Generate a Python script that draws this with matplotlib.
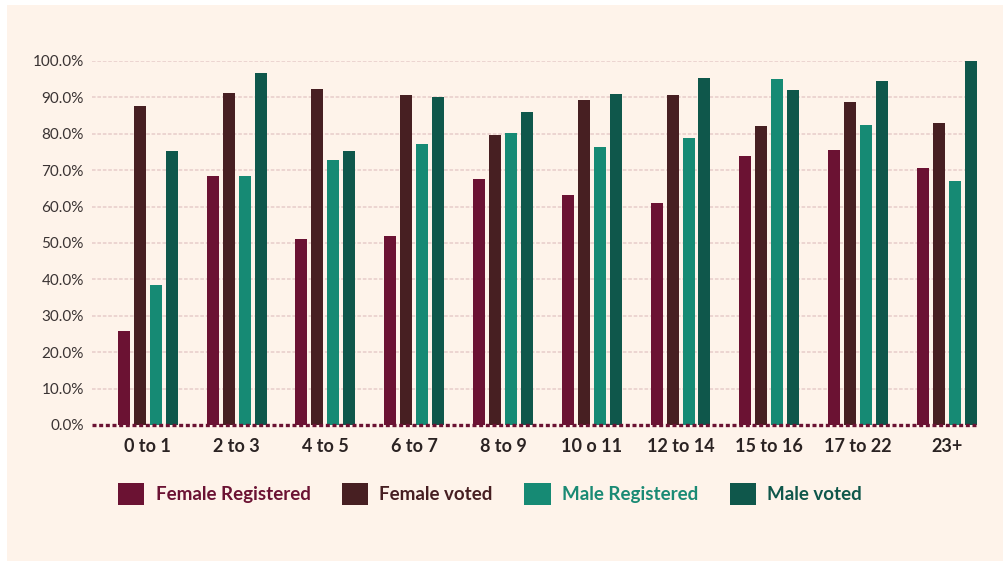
import numpy as np
import matplotlib
matplotlib.use("Agg")
import matplotlib.pyplot as plt
from matplotlib.patches import Patch, Rectangle
from matplotlib.ticker import FuncFormatter

# data
groups = ["0 to 1", "2 to 3", "4 to 5", "6 to 7", "8 to 9",
          "10 o 11", "12 to 14", "15 to 16", "17 to 22", "23+"]
female_registered = [25.9, 68.4, 51.2, 52.0, 67.6, 63.2, 61.0, 73.9, 75.6, 70.6]
female_voted = [87.6, 91.2, 92.3, 90.7, 79.7, 89.3, 90.7, 82.1, 88.7, 83.0]
male_registered = [38.4, 68.4, 72.8, 77.2, 80.2, 76.4, 78.8, 95.1, 82.4, 67.0]
male_voted = [75.3, 96.7, 75.3, 90.1, 86.0, 90.9, 95.3, 92.0, 94.5, 100.0]

series = ["Female Registered", "Female voted", "Male Registered", "Male voted"]
colors = ["#6B1233", "#471F22", "#168A74", "#0F574B"]
values = [female_registered, female_voted, male_registered, male_voted]

plt.rcParams["font.family"] = ["Lato", "DejaVu Sans"]

W, H = 1007, 562
fig = plt.figure(figsize=(W / 100, H / 100), dpi=100)
fig.patch.set_facecolor("white")
# cream panel behind everything
fig.patches.append(Rectangle((7 / W, 1 - 561 / H), (1003 - 7) / W, (561 - 5) / H,
                             transform=fig.transFigure, facecolor="#FEF3EA",
                             edgecolor="none", zorder=-5))

ax = fig.add_axes([92 / W, 1 - 425 / H, (977 - 92) / W, (425 - 61) / H])
ax.set_facecolor("none")
ax.set_zorder(2)

x = np.arange(len(groups))
width = 0.135
step = 0.18
for i, (vals, c) in enumerate(zip(values, colors)):
    ax.bar(x + (i - 1.5) * step, vals, width=width, color=c, zorder=3,
           label=series[i], clip_on=False)

ax.set_xlim(-0.63, 9.34)
ax.set_ylim(0, 100)
ax.set_yticks(np.arange(0, 101, 10))
ax.yaxis.set_major_formatter(FuncFormatter(lambda v, p: f"{v:.1f}%"))
for v in range(10, 101, 10):
    ax.axhline(v, color="#EBD2CF", linestyle=(0, (2, 1)), linewidth=1.3, zorder=1)
ax.axhline(0, color="#6B1233", linestyle=(0, (1.2, 0.8)), linewidth=2.4, zorder=4,
           clip_on=False)

ax.set_xticks(x)
ax.set_xticklabels(groups, fontsize=13, fontweight="bold", color="#2B2323")
ax.tick_params(axis="y", length=0, labelsize=11, labelcolor="#3A3333", pad=6)
ax.tick_params(axis="x", length=0, pad=9)
for s in ax.spines.values():
    s.set_visible(False)

handles = [Patch(facecolor=c, edgecolor="none") for c in colors]
leg = fig.legend(handles, series, ncol=4, loc="center left",
                 bbox_to_anchor=(118 / W, 1 - 494 / H), frameon=False,
                 borderaxespad=0, borderpad=0,
                 prop={"size": 13.5, "weight": "bold"},
                 handlelength=1.4, handleheight=1.4, handletextpad=0.6,
                 columnspacing=1.68)
for t, c in zip(leg.get_texts(), ["#6B1233", "#471F22", "#1A8A74", "#0F574B"]):
    t.set_color(c)

fig.savefig("out.png", dpi=100, facecolor=fig.get_facecolor())
